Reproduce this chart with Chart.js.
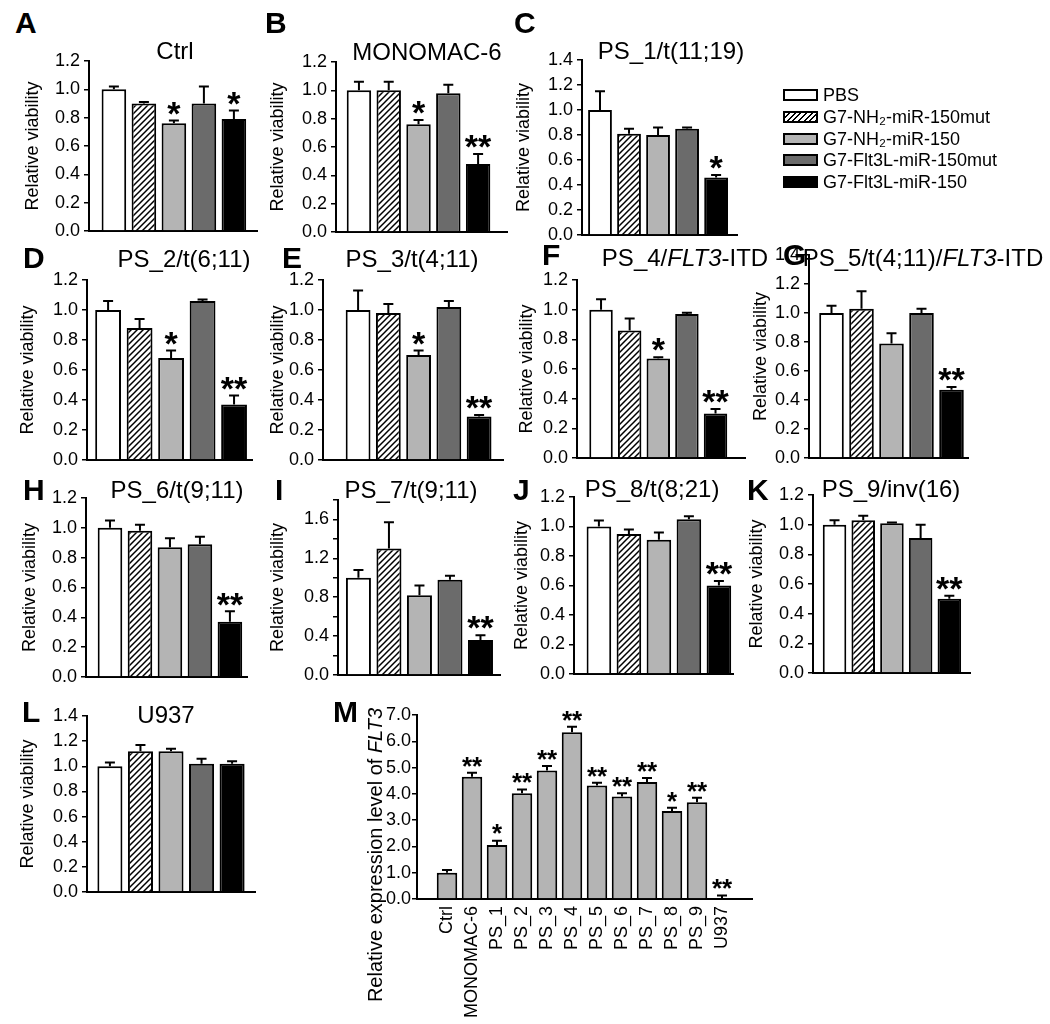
<!DOCTYPE html>
<html>
<head>
<meta charset="utf-8">
<script src="https://cdn.jsdelivr.net/npm/chart.js@4.4.1/dist/chart.umd.min.js"></script>
<style>
body { margin: 0; background: #fff; }
#fig { position: relative; width: 1050px; height: 1024px; overflow: hidden; font-family: "Liberation Sans", Arial, sans-serif; color: #000; }
#fig canvas { position: absolute; }
.letter { position: absolute; font-weight: bold; font-size: 30px; line-height: 30px; }
.ttl { position: absolute; font-size: 24px; line-height: 24px; white-space: nowrap; transform: translateX(-50%); }
.lg { position: absolute; font-size: 18px; line-height: 18px; white-space: nowrap; }
.sw { position: absolute; width: 35px; height: 12px; border: 2px solid #000; box-sizing: border-box; }
#mTitle { position: absolute; font-size: 20px; line-height: 20px; white-space: nowrap; transform: translate(-50%, -50%) rotate(-90deg); }
</style>
</head>
<body>
<div id="fig"></div>
<script>
var groups = ['PBS', 'G7-NH₂-miR-150mut', 'G7-NH₂-miR-150', 'G7-Flt3L-miR-150mut', 'G7-Flt3L-miR-150'];

// relative viability: mean, error (+), significance
var ctrlVals = [1.00, 0.90, 0.76, 0.90, 0.79];
var ctrlErr  = [0.02, 0.01, 0.02, 0.12, 0.06];
var ctrlSig  = ['', '', '*', '', '*'];

var monoVals = [1.00, 1.00, 0.76, 0.98, 0.48];
var monoErr  = [0.06, 0.06, 0.03, 0.06, 0.07];
var monoSig  = ['', '', '*', '', '**'];

var ps1Vals = [1.00, 0.81, 0.80, 0.85, 0.46];
var ps1Err  = [0.15, 0.04, 0.06, 0.01, 0.02];
var ps1Sig  = ['', '', '', '', '*'];

var ps2Vals = [1.00, 0.88, 0.68, 1.06, 0.37];
var ps2Err  = [0.06, 0.06, 0.05, 0.01, 0.06];
var ps2Sig  = ['', '', '*', '', '**'];

var ps3Vals = [1.00, 0.98, 0.70, 1.02, 0.29];
var ps3Err  = [0.13, 0.06, 0.03, 0.04, 0.01];
var ps3Sig  = ['', '', '*', '', '**'];

var ps4Vals = [1.00, 0.86, 0.67, 0.97, 0.30];
var ps4Err  = [0.07, 0.08, 0.01, 0.01, 0.03];
var ps4Sig  = ['', '', '*', '', '**'];

var ps5Vals = [1.00, 1.03, 0.79, 1.00, 0.47];
var ps5Err  = [0.05, 0.12, 0.07, 0.03, 0.02];
var ps5Sig  = ['', '', '', '', '**'];

var ps6Vals = [1.00, 0.98, 0.87, 0.89, 0.37];
var ps6Err  = [0.05, 0.04, 0.06, 0.05, 0.07];
var ps6Sig  = ['', '', '', '', '**'];

var ps7Vals = [1.00, 1.30, 0.82, 0.98, 0.36];
var ps7Err  = [0.08, 0.27, 0.10, 0.04, 0.05];
var ps7Sig  = ['', '', '', '', '**'];

var ps8Vals = [1.00, 0.95, 0.91, 1.05, 0.60];
var ps8Err  = [0.04, 0.03, 0.05, 0.02, 0.03];
var ps8Sig  = ['', '', '', '', '**'];

var ps9Vals = [1.00, 1.03, 1.01, 0.91, 0.50];
var ps9Err  = [0.03, 0.03, 0.005, 0.09, 0.02];
var ps9Sig  = ['', '', '', '', '**'];

var u937Vals = [1.00, 1.12, 1.12, 1.02, 1.02];
var u937Err  = [0.03, 0.05, 0.02, 0.04, 0.02];
var u937Sig  = ['', '', '', '', ''];

// panel M: FLT3 expression
var cellLines = ['Ctrl', 'MONOMAC-6', 'PS_1', 'PS_2', 'PS_3', 'PS_4', 'PS_5', 'PS_6', 'PS_7', 'PS_8', 'PS_9', 'U937'];
var flt3Vals = [1.00, 4.65, 2.05, 4.02, 4.89, 6.34, 4.32, 3.90, 4.45, 3.35, 3.68, 0.02];
var flt3Err  = [0.10, 0.15, 0.17, 0.15, 0.17, 0.21, 0.10, 0.12, 0.15, 0.12, 0.17, 0.11];
var flt3Sig  = ['', '**', '*', '**', '**', '**', '**', '**', '**', '*', '**', '**'];

Chart.defaults.font.family = "'Liberation Sans', Arial, sans-serif";
Chart.defaults.color = '#000';

var fig = document.getElementById('fig');

function hatch() {
    var pc = document.createElement('canvas');
    pc.width = 6; pc.height = 6;
    var c = pc.getContext('2d');
    c.fillStyle = '#fff';
    c.fillRect(0, 0, 6, 6);
    c.strokeStyle = '#000';
    c.lineWidth = 1.5;
    c.beginPath();
    c.moveTo(0, 6); c.lineTo(6, 0);
    c.moveTo(-1, 1); c.lineTo(1, -1);
    c.moveTo(5, 7); c.lineTo(7, 5);
    c.stroke();
    return c.createPattern(pc, 'repeat');
}
var barFills = ['#ffffff', hatch(), '#b4b4b4', '#6b6b6b', '#000000'];

// error bars and stars
var errPlugin = {
    id: 'errbars',
    afterDatasetsDraw: function (chart) {
        var ds = chart.data.datasets[0];
        var meta = chart.getDatasetMeta(0);
        var ys = chart.scales.y;
        var c = chart.ctx;
        c.save();
        c.strokeStyle = '#000';
        c.fillStyle = '#000';
        c.lineWidth = 2;
        c.textAlign = 'center';
        c.textBaseline = 'alphabetic';
        c.font = 'bold ' + ds.starSize + 'px ' + Chart.defaults.font.family;
        meta.data.forEach(function (bar, i) {
            var top = ys.getPixelForValue(ds.data[i].y + ds.errors[i]);
            c.beginPath();
            c.moveTo(bar.x, bar.y);
            c.lineTo(bar.x, top);
            c.moveTo(bar.x - 5, top);
            c.lineTo(bar.x + 5, top);
            c.stroke();
            if (ds.stars[i]) {
                c.fillText(ds.stars[i], bar.x, top - 6 + 0.3 * ds.starSize);
            }
        });
        c.restore();
    }
};

function addText(cls, html, left, top) {
    var d = document.createElement('div');
    d.className = cls;
    d.innerHTML = html;
    d.style.left = left + 'px';
    d.style.top = top + 'px';
    fig.appendChild(d);
    return d;
}

// layout: ax/rx = axis left/right px, top/bot = px of y max / zero,
// xMin/xMax = index range of x axis, titleX = centre of y title
var panels = [
    {id: 'A', name: 'Ctrl', vals: ctrlVals, err: ctrlErr, sig: ctrlSig, yMax: 1.2, ax: 89, rx: 257, top: 61, bot: 231, xMin: -0.83, xMax: 4.77, titleX: 33, tx: 175, ty: 59, lx: 15, ly: 33},
    {id: 'B', name: 'MONOMAC-6', vals: monoVals, err: monoErr, sig: monoSig, yMax: 1.2, ax: 336, rx: 507, top: 62, bot: 232, xMin: -0.77, xMax: 4.97, titleX: 278, tx: 427, ty: 60, lx: 265, ly: 33},
    {id: 'C', name: 'PS_1/t(11;19)', vals: ps1Vals, err: ps1Err, sig: ps1Sig, yMax: 1.4, ax: 582, rx: 737, top: 60, bot: 235, xMin: -0.62, xMax: 4.72, titleX: 524, tx: 671, ty: 59, lx: 514, ly: 33},
    {id: 'D', name: 'PS_2/t(6;11)', vals: ps2Vals, err: ps2Err, sig: ps2Sig, yMax: 1.2, ax: 87, rx: 252, top: 280, bot: 460, xMin: -0.67, xMax: 4.57, titleX: 28, tx: 184, ty: 267, lx: 23, ly: 268},
    {id: 'E', name: 'PS_3/t(4;11)', vals: ps3Vals, err: ps3Err, sig: ps3Sig, yMax: 1.2, ax: 323, rx: 503, top: 280, bot: 460, xMin: -1.16, xMax: 4.79, titleX: 278, tx: 412, ty: 267, lx: 282, ly: 268},
    {id: 'F', name: 'PS_4/<i>FLT3</i>-ITD', vals: ps4Vals, err: ps4Err, sig: ps4Sig, yMax: 1.2, ax: 577, rx: 745, top: 280, bot: 458, xMin: -0.84, xMax: 5.03, titleX: 527, tx: 685, ty: 266, lx: 542, ly: 265},
    {id: 'G', name: 'PS_5/t(4;11)/<i>FLT3</i>-ITD', vals: ps5Vals, err: ps5Err, sig: ps5Sig, yMax: 1.4, ax: 809, rx: 968, top: 255, bot: 458, xMin: -0.75, xMax: 4.55, titleX: 761, tx: 923, ty: 266, lx: 783, ly: 265},
    {id: 'H', name: 'PS_6/t(9;11)', vals: ps6Vals, err: ps6Err, sig: ps6Sig, yMax: 1.2, ax: 86, rx: 247, top: 498, bot: 677, xMin: -0.8, xMax: 4.57, titleX: 30, tx: 177, ty: 498, lx: 23, ly: 500},
    {id: 'I', name: 'PS_7/t(9;11)', vals: ps7Vals, err: ps7Err, sig: ps7Sig, yMax: 1.8, ax: 338, rx: 500, top: 500, bot: 675, xMin: -0.67, xMax: 4.64, titleX: 278, tx: 411, ty: 498, lx: 275, ly: 500, every: 2},
    {id: 'J', name: 'PS_8/t(8;21)', vals: ps8Vals, err: ps8Err, sig: ps8Sig, yMax: 1.2, ax: 574, rx: 733, top: 497, bot: 674, xMin: -0.83, xMax: 4.47, titleX: 522, tx: 652, ty: 497, lx: 513, ly: 500},
    {id: 'K', name: 'PS_9/inv(16)', vals: ps9Vals, err: ps9Err, sig: ps9Sig, yMax: 1.2, ax: 813, rx: 970, top: 495, bot: 673, xMin: -0.75, xMax: 4.72, titleX: 757, tx: 891, ty: 497, lx: 747, ly: 500},
    {id: 'L', name: 'U937', vals: u937Vals, err: u937Err, sig: u937Sig, yMax: 1.4, ax: 87, rx: 255, top: 716, bot: 892, xMin: -0.75, xMax: 4.75, titleX: 28, tx: 166, ty: 723, lx: 22, ly: 722}
];

function makeChart(p, opt) {
    var left = opt.left, top = p.top - 12;
    var w = p.rx + 6 - left, h = opt.bottom - top;
    var cv = document.createElement('canvas');
    cv.width = w; cv.height = h;
    cv.style.left = left + 'px';
    cv.style.top = top + 'px';
    fig.appendChild(cv);

    new Chart(cv, {
        type: 'bar',
        data: {
            datasets: [{
                data: p.vals.map(function (v, i) { return {x: i, y: v}; }),
                errors: p.err,
                stars: p.sig,
                starSize: opt.starSize,
                backgroundColor: opt.fills,
                borderColor: '#000',
                borderWidth: 2,
                categoryPercentage: 1,
                barPercentage: 0.82
            }]
        },
        options: {
            responsive: false,
            animation: false,
            layout: {padding: {left: 0, top: 12, right: 6, bottom: 0}},
            plugins: {legend: {display: false}, tooltip: {enabled: false}},
            scales: {
                x: {
                    type: 'linear',
                    offset: false,
                    min: p.xMin,
                    max: p.xMax,
                    grid: {display: false, drawTicks: false},
                    border: {display: true, color: '#000', width: 2},
                    ticks: opt.xTicks || {display: false},
                    afterBuildTicks: function (axis) {
                        axis.ticks = p.vals.map(function (v, i) { return {value: i}; });
                    },
                    afterFit: function (axis) {
                        axis.height = opt.bottom - p.bot;
                        axis.paddingLeft = 0;
                        axis.paddingRight = 0;
                    }
                },
                y: {
                    min: 0,
                    max: p.yMax,
                    grid: {display: true, drawOnChartArea: false, drawTicks: true, tickLength: 5, color: '#000', lineWidth: 1.5},
                    border: {display: true, color: '#000', width: 2},
                    ticks: {
                        stepSize: opt.step,
                        autoSkip: false,
                        padding: opt.tickPad,
                        font: {size: 18},
                        callback: function (v, i) {
                            if (p.every && i % p.every) return '';
                            return v.toFixed(1);
                        }
                    },
                    title: {display: opt.yTitle, text: 'Relative viability', font: {size: 18}, padding: {top: 4, bottom: 0}},
                    afterFit: function (axis) {
                        axis.width = p.ax - left;
                        axis.paddingTop = 0;
                        axis.paddingBottom = 0;
                    }
                }
            }
        },
        plugins: [errPlugin]
    });
}

panels.forEach(function (p) {
    makeChart(p, {left: Math.round(p.titleX - 15), bottom: p.bot + 8, fills: barFills, starSize: 34, step: 0.2, tickPad: 4, yTitle: true});
    addText('letter', p.id, p.lx, p.ly - 25);
    addText('ttl', p.name, p.tx, p.ty - 20);
});

// legend
groups.forEach(function (g, i) {
    var yc = 95 + i * 21.75;
    var sw = addText('sw', '', 783, Math.round(yc - 6));
    sw.style.background = ['#fff', 'repeating-linear-gradient(135deg, #fff 0 2.5px, #000 2.5px 4px)', '#b4b4b4', '#6b6b6b', '#000'][i];
    addText('lg', g, 823, Math.round(yc - 9));
});

// panel M
var pM = {vals: flt3Vals, err: flt3Err, sig: flt3Sig, yMax: 7, ax: 417, rx: 752, top: 715, bot: 899, xMin: -1.2, xMax: 12.2};
makeChart(pM, {
    left: 350, bottom: 1024, fills: '#b4b4b4', starSize: 26, step: 1, tickPad: 1, yTitle: false,
    xTicks: {display: true, autoSkip: false, minRotation: 90, maxRotation: 90, padding: 7, font: {size: 18},
             callback: function (v) { return cellLines[v]; }}
});
addText('letter', 'M', 333, 722 - 25);
addText('', 'Relative expression level of <i>FLT3</i>', 375, 855).id = 'mTitle';
</script>
</body>
</html>
